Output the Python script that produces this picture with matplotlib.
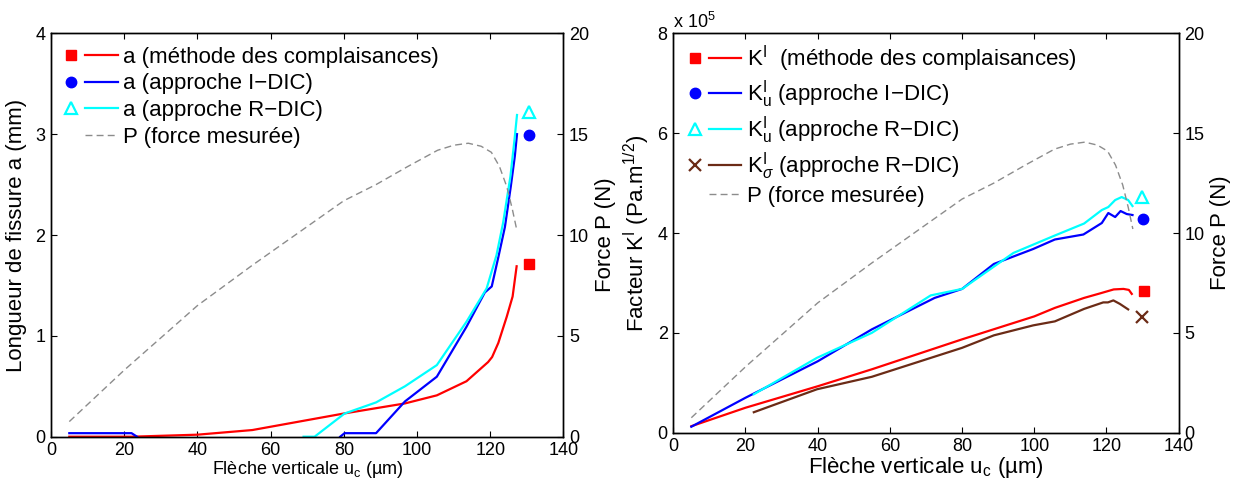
import numpy as np
import matplotlib
matplotlib.use('Agg')
import matplotlib.pyplot as plt
from matplotlib.legend_handler import HandlerBase
from matplotlib.lines import Line2D

plt.rcParams['font.family'] = ['Liberation Sans', 'DejaVu Sans']
plt.rcParams['mathtext.fontset'] = 'custom'
plt.rcParams['mathtext.rm'] = 'Liberation Sans'
plt.rcParams['mathtext.it'] = 'Liberation Sans:italic'
plt.rcParams['mathtext.bf'] = 'Liberation Sans:bold'
plt.rcParams['mathtext.sf'] = 'Liberation Sans'
plt.rcParams['axes.linewidth'] = 1.0

# ---- measured force (shared by both panels)
u_P = [5, 20, 40, 55, 80, 88.8, 97.5, 105.6, 110, 114, 117.5, 120.3, 122.5, 124.5, 126, 127.3]
P = [0.75, 3.3, 6.5, 8.5, 11.7, 12.5, 13.4, 14.2, 14.45, 14.55, 14.4, 14.1, 13.4, 12.4, 11.3, 10.2]

# ---- left panel: crack length a (mm)
u_a_comp = [5, 22, 40, 55, 80, 96.7, 105.4, 113.5, 119.4, 120.5, 122.2, 124.5, 126.1, 127.2]
a_comp = [0, 0, 0.02, 0.066, 0.23, 0.33, 0.41, 0.55, 0.74, 0.79, 0.93, 1.19, 1.39, 1.69]

u_a_idic = [5, 22, 23.5, np.nan, 79, 80.2, 88.8, 96.7, 105.4, 113.5, 118.5, 120.4, 122.2, 124, 125.6, 126.7, 127.3]
a_idic = [0.035, 0.035, 0, np.nan, 0, 0.035, 0.035, 0.35, 0.595, 1.09, 1.43, 1.49, 1.78, 2.08, 2.48, 2.78, 3.0]

u_a_rdic = [69, 72, 80.2, 88.8, 96.7, 105.4, 113.5, 119, 121.7, 123.5, 125.5, 126.6, 127.3]
a_rdic = [0, 0, 0.23, 0.34, 0.50, 0.71, 1.14, 1.47, 1.80, 2.12, 2.58, 2.94, 3.19]

# final values (isolated markers)
u_end_a = 130.5
a_end = [1.71, 2.99, 3.22]   # compl., I-DIC, R-DIC

# ---- right panel: stress intensity factor K (x 1e5 Pa.m^1/2)
u_K_comp = [5, 20, 40, 55, 80, 100, 105.7, 113.8, 118.2, 122, 124.7, 126.2, 127]
K_comp = [0.13, 0.5, 0.93, 1.27, 1.87, 2.33, 2.5, 2.7, 2.79, 2.87, 2.88, 2.86, 2.78]

u_K_idic = [5, 20, 40, 55, 72.4, 80, 88.8, 99.7, 105.7, 113.6, 118.7, 120.5, 122.4, 123.9, 125.6, 127.2]
K_idic = [0.12, 0.7, 1.43, 2.07, 2.7, 2.88, 3.38, 3.68, 3.87, 3.97, 4.2, 4.4, 4.32, 4.44, 4.38, 4.36]

u_K_rdic = [22.3, 39.8, 55, 71.3, 80, 94.2, 105.7, 113.8, 118.7, 120.5, 122.4, 124.2, 126, 127.2]
K_rdic = [0.77, 1.5, 2.0, 2.75, 2.88, 3.6, 3.95, 4.19, 4.46, 4.52, 4.66, 4.72, 4.66, 4.54]

u_Ks_rdic = [22.3, 39.8, 55, 80, 88.8, 99.7, 105.7, 113.8, 119.1, 120.4, 121.9, 123.7, 126]
Ks_rdic = [0.41, 0.87, 1.12, 1.7, 1.95, 2.15, 2.23, 2.48, 2.61, 2.61, 2.65, 2.58, 2.47]

u_end_K = [130.5, 130.2, 129.7, 129.7]
K_end = [2.83, 4.28, 4.73, 2.32]   # compl., I-DIC, R-DIC, sigma R-DIC

red = '#ff0000'
blue = '#0000ff'
cyan = '#00ffff'
brown = '#6b2b16'
grey = '#8c8c8c'
lw = 1.6


class MarkerThenLine(HandlerBase):
    # MATLAB-like legend entry: marker, small gap, then the line
    def create_artists(self, legend, orig_handle, xdescent, ydescent,
                       width, height, fontsize, trans):
        mk, ln = orig_handle
        y = 0.5 * height - ydescent
        x0 = -xdescent
        out = []
        if mk is not None:
            m = Line2D([x0 + 0.1 * width], [y])
            m.update_from(mk)
            m.set_linestyle('none')
            out.append(m)
        l = Line2D([x0 + 0.37 * width, x0 + width], [y, y])
        l.update_from(ln)
        l.set_marker('None')
        out.append(l)
        for a in out:
            a.set_transform(trans)
        return out


def style_axes(ax, axr):
    ax.set_xlim(0, 140)
    ax.set_xticks(np.arange(0, 141, 20))
    ax.tick_params(direction='in', top=True, right=False, labelsize=13,
                   length=4, pad=4)
    axr.set_ylim(0, 20)
    axr.set_yticks([0, 5, 10, 15, 20])
    axr.tick_params(direction='in', labelsize=13, length=4, pad=4)
    axr.set_ylabel('Force P (N)', fontsize=16, labelpad=4)


fig = plt.figure(figsize=(12.36, 4.82), dpi=100)

# ================= left
ax1 = fig.add_axes([0.04126, 0.09398, 0.41464, 0.83693])
ax1r = ax1.twinx()
l1, = ax1.plot(u_a_comp, a_comp, color=red, lw=lw)
l2, = ax1.plot(u_a_idic, a_idic, color=blue, lw=lw)
l3, = ax1.plot(u_a_rdic, a_rdic, color=cyan, lw=lw)
m1, = ax1.plot([u_end_a], [a_end[0]], 's', color=red, ms=7)
m2, = ax1.plot([u_end_a], [a_end[1]], 'o', color=blue, ms=7.5)
m3, = ax1.plot([u_end_a], [a_end[2]], '^', mfc='none', mec=cyan, mew=1.6, ms=8)
lp, = ax1r.plot(u_P, P, color=grey, lw=1.0, linestyle=(0, (5, 3)))

ax1.set_ylim(0, 4)
ax1.set_yticks([0, 1, 2, 3, 4])
style_axes(ax1, ax1r)
ax1.set_ylabel('Longueur de fissure a (mm)', fontsize=16, labelpad=6)
ax1.set_xlabel('Flèche verticale u$_\\mathrm{c}$ (µm)', fontsize=13, labelpad=0)

ax1r.legend([(m1, l1), (m2, l2), (m3, l3), (None, lp)],
            ['a (méthode des complaisances)',
             'a (approche I\u2212DIC)',
             'a (approche R\u2212DIC)',
             'P (force mesurée)'],
            handler_map={tuple: MarkerThenLine()},
            loc='upper left', bbox_to_anchor=(0.029, 0.967),
            frameon=False, fontsize=16, handlelength=2.35, handletextpad=0.2,
            labelspacing=0.26, borderpad=0, borderaxespad=0)

# ================= right
ax2 = fig.add_axes([0.54474, 0.10228, 0.40890, 0.82863])
ax2r = ax2.twinx()
k1, = ax2.plot(u_K_comp, K_comp, color=red, lw=lw)
k2, = ax2.plot(u_K_idic, K_idic, color=blue, lw=lw)
k3, = ax2.plot(u_K_rdic, K_rdic, color=cyan, lw=lw)
k4, = ax2.plot(u_Ks_rdic, Ks_rdic, color=brown, lw=lw)
n1, = ax2.plot([u_end_K[0]], [K_end[0]], 's', color=red, ms=7)
n2, = ax2.plot([u_end_K[1]], [K_end[1]], 'o', color=blue, ms=7.5)
n3, = ax2.plot([u_end_K[2]], [K_end[2]], '^', mfc='none', mec=cyan, mew=1.6, ms=8)
n4, = ax2.plot([u_end_K[3]], [K_end[3]], 'x', color=brown, mew=1.6, ms=8)
kp, = ax2r.plot(u_P, P, color=grey, lw=1.0, linestyle=(0, (5, 3)))

ax2.set_ylim(0, 8)
ax2.set_yticks([0, 2, 4, 6, 8])
style_axes(ax2, ax2r)
ax2.set_ylabel('Facteur K$^\\mathrm{I}$ (Pa.m$^{1/2}$)', fontsize=16, labelpad=4)
ax2.set_xlabel('Flèche verticale u$_\\mathrm{c}$ (µm)', fontsize=16, labelpad=0)
ax2.text(0, 1.014, 'x 10$^{5}$', transform=ax2.transAxes, fontsize=13,
         ha='left', va='baseline')

ax2r.legend([(n1, k1), (n2, k2), (n3, k3), (n4, k4), (None, kp)],
            ['$\\mathrm{K}^\\mathrm{I}$  (méthode des complaisances)',
             '$\\mathrm{K}^\\mathrm{I}_\\mathrm{u}$ (approche I\u2212DIC)',
             '$\\mathrm{K}^\\mathrm{I}_\\mathrm{u}$ (approche R\u2212DIC)',
             '$\\mathrm{K}^\\mathrm{I}_\\sigma$ (approche R\u2212DIC)',
             'P (force mesurée)'],
            handler_map={tuple: MarkerThenLine()},
            loc='upper left', bbox_to_anchor=(0.033, 0.975),
            frameon=False, fontsize=16, handlelength=2.3, handletextpad=0.27,
            labelspacing=0.18, borderpad=0, borderaxespad=0)

plt.savefig('out.png', dpi=100)
